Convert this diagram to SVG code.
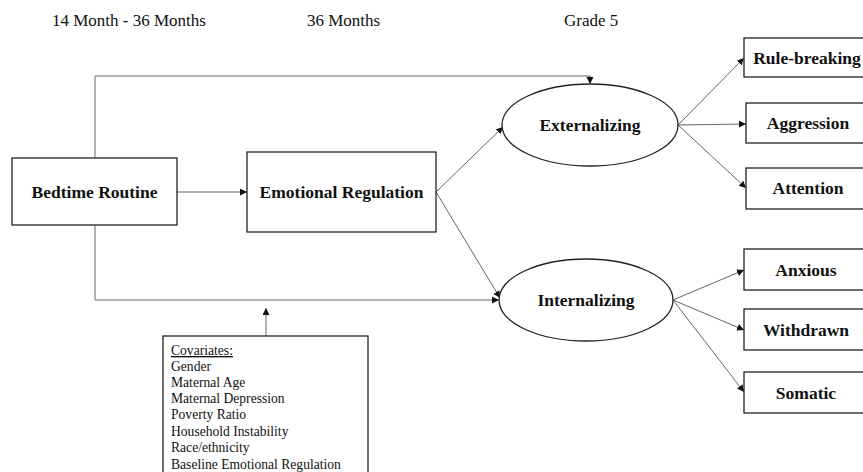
<svg xmlns="http://www.w3.org/2000/svg" width="863" height="472" viewBox="0 0 863 472">
<style>
.bg{fill:#ffffff}
.box{fill:#ffffff;stroke:#222;stroke-width:1.3}
.lbl{font-family:"Liberation Serif","Times New Roman",serif;font-weight:bold;font-size:17.5px;fill:#111;text-anchor:middle}
.hdr{font-family:"Liberation Serif","Times New Roman",serif;font-size:17px;fill:#111}
.cov{font-family:"Liberation Serif","Times New Roman",serif;font-size:13.6px;fill:#111}
.con{fill:none;stroke:#666;stroke-width:1}
</style>
<defs>
<marker id="arr" markerUnits="userSpaceOnUse" markerWidth="8" markerHeight="8" refX="7" refY="3.5" orient="auto">
<path d="M0,0 L7,3.5 L0,7 z" fill="#111"/>
</marker>
</defs>
<rect class="bg" x="0" y="0" width="863" height="472"/>
<g id="headers">
<text class="hdr" x="52" y="26">14 Month - 36 Months</text>
<text class="hdr" x="307" y="26">36 Months</text>
<text class="hdr" x="564" y="26">Grade 5</text>
</g>
<g id="connectors">
<path class="con" d="M177,192 H247" marker-end="url(#arr)"/>
<path class="con" d="M95,158 V76 H590 V84" marker-end="url(#arr)"/>
<path class="con" d="M95,225 V300 H499" marker-end="url(#arr)"/>
<path class="con" d="M436,192 L503,127" marker-end="url(#arr)"/>
<path class="con" d="M436,192 L500,298" marker-end="url(#arr)"/>
<path class="con" d="M266,337 V308" marker-end="url(#arr)"/>
<path class="con" d="M678,125 L744,58" marker-end="url(#arr)"/>
<path class="con" d="M678,125 L746,124" marker-end="url(#arr)"/>
<path class="con" d="M678,125 L746,188" marker-end="url(#arr)"/>
<path class="con" d="M673,300 L744,270" marker-end="url(#arr)"/>
<path class="con" d="M673,300 L744,330" marker-end="url(#arr)"/>
<path class="con" d="M673,300 L744,392" marker-end="url(#arr)"/>
</g>
<g id="bedtime">
<rect class="box" x="12" y="158" width="165" height="67"/>
<text class="lbl" x="94.5" y="198">Bedtime Routine</text>
</g>
<g id="emotional">
<rect class="box" x="247" y="152" width="189" height="80"/>
<text class="lbl" x="341.5" y="198">Emotional Regulation</text>
</g>
<g id="externalizing">
<ellipse class="box" cx="590" cy="125" rx="88" ry="41"/>
<text class="lbl" x="590" y="131">Externalizing</text>
</g>
<g id="internalizing">
<ellipse class="box" cx="586" cy="300" rx="87" ry="41"/>
<text class="lbl" x="586" y="306">Internalizing</text>
</g>
<g id="rulebreaking">
<rect class="box" x="744" y="38" width="126" height="39"/>
<text class="lbl" x="807" y="64">Rule-breaking</text>
</g>
<g id="aggression">
<rect class="box" x="746" y="103" width="124" height="40"/>
<text class="lbl" x="808" y="129">Aggression</text>
</g>
<g id="attention">
<rect class="box" x="746" y="168" width="124" height="41"/>
<text class="lbl" x="808" y="194">Attention</text>
</g>
<g id="anxious">
<rect class="box" x="744" y="249" width="126" height="41"/>
<text class="lbl" x="806" y="276">Anxious</text>
</g>
<g id="withdrawn">
<rect class="box" x="744" y="309" width="126" height="41"/>
<text class="lbl" x="806" y="336">Withdrawn</text>
</g>
<g id="somatic">
<rect class="box" x="744" y="372" width="126" height="41"/>
<text class="lbl" x="806" y="399">Somatic</text>
</g>
<g id="covariates">
<rect class="box" x="163" y="336" width="205" height="145"/>
<text class="cov" x="171" y="355" text-decoration="underline">Covariates:</text>
<text class="cov" x="171" y="371">Gender</text>
<text class="cov" x="171" y="387">Maternal Age</text>
<text class="cov" x="171" y="403">Maternal Depression</text>
<text class="cov" x="171" y="419">Poverty Ratio</text>
<text class="cov" x="171" y="436">Household Instability</text>
<text class="cov" x="171" y="452">Race/ethnicity</text>
<text class="cov" x="171" y="469">Baseline Emotional Regulation</text>
</g>
</svg>
